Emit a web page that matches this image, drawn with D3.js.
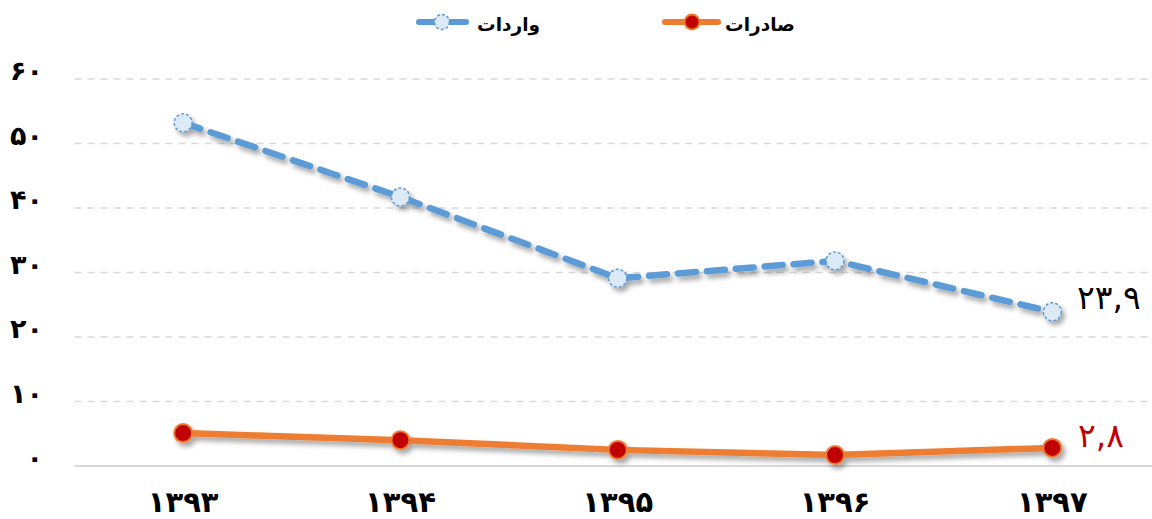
<!DOCTYPE html>
<html><head><meta charset="utf-8">
<script src="https://cdn.jsdelivr.net/npm/d3@7/dist/d3.min.js"></script>
<style>body{margin:0;background:#fff}svg{display:block}</style>
</head><body>
<svg id="c" width="1152" height="519"></svg>
<script>
const years = ["۱۳۹۳","۱۳۹۴","۱۳۹۵","۱۳۹۶","۱۳۹۷"];
const imports = [53.2, 41.7, 29.1, 31.8, 23.9];
const exportsV = [5.1, 4.0, 2.5, 1.7, 2.8];
const yTicks = [0,10,20,30,40,50,60];
const yTickLabels = ["۰","۱۰","۲۰","۳۰","۴۰","۵۰","۶۰"];
const seriesNames = ["واردات","صادرات"];
const endLabels = ["۲۳,۹","۲,۸"];

const svg = d3.select("#c");
const font = "DejaVu Sans";
const x = d3.scaleBand().domain(years).range([74.5, 1161]);
const y = d3.scaleLinear().domain([0,60]).range([466, 79]);
const cx = d => x(d) + x.bandwidth()/2;

const defs = svg.append("defs");
const f = defs.append("filter").attr("id","sh").attr("x","-20%").attr("y","-50%").attr("width","140%").attr("height","200%");
f.append("feDropShadow").attr("dx",3).attr("dy",4).attr("stdDeviation",2.5).attr("flood-color","#000").attr("flood-opacity",0.35);

// gridlines
svg.append("g").selectAll("line").data(yTicks.filter(t=>t>0)).join("line")
  .attr("x1",74.5).attr("x2",1152).attr("y1",d=>y(d)).attr("y2",d=>y(d))
  .attr("stroke","#d9d9d9").attr("stroke-width",1.5).attr("stroke-dasharray","7,6");
// axis line
svg.append("line").attr("x1",74.5).attr("x2",1152).attr("y1",y(0)).attr("y2",y(0))
  .attr("stroke","#d9d9d9").attr("stroke-width",2);

// y labels
svg.append("g").selectAll("text").data(yTicks).join("text")
  .attr("x",43).attr("y",d=>y(d)+1).attr("text-anchor","end")
  .attr("font-family",font).attr("font-weight","bold").attr("font-size",27).attr("fill","#000")
  .text((d,i)=>yTickLabels[i]);

// x labels
svg.append("g").selectAll("text").data(years).join("text")
  .attr("x",d=>cx(d)).attr("y",512).attr("text-anchor","middle")
  .attr("font-family",font).attr("font-weight","bold").attr("font-size",29).attr("fill","#000")
  .text(d=>d);

const line = d3.line().x((d,i)=>cx(years[i])).y(d=>y(d));

// imports
const gi = svg.append("g").attr("filter","url(#sh)");
gi.append("path").datum(imports).attr("d",line).attr("fill","none")
  .attr("stroke","#5b9bd5").attr("stroke-width",6.5).attr("stroke-linecap","round")
  .attr("stroke-dasharray","18,11");
gi.selectAll("circle").data(imports).join("circle")
  .attr("cx",(d,i)=>cx(years[i])).attr("cy",d=>y(d)).attr("r",9)
  .attr("fill","#dce9f7").attr("stroke","#5b9bd5").attr("stroke-width",1.5).attr("stroke-dasharray","3,2");

// exports
const ge = svg.append("g").attr("filter","url(#sh)");
ge.append("path").datum(exportsV).attr("d",line).attr("fill","none")
  .attr("stroke","#ed7d31").attr("stroke-width",6.5).attr("stroke-linecap","round");
ge.selectAll("circle").data(exportsV).join("circle")
  .attr("cx",(d,i)=>cx(years[i])).attr("cy",d=>y(d)).attr("r",9)
  .attr("fill","#c00000").attr("stroke","#ed7d31").attr("stroke-width",2);

// end labels
svg.append("text").attr("x",1077).attr("y",309).attr("direction","ltr")
  .attr("font-family",font).attr("font-size",33).attr("fill","#000").text(endLabels[0]);
svg.append("text").attr("x",1078).attr("y",447).attr("direction","ltr")
  .attr("font-family",font).attr("font-size",33).attr("fill","#c00000").text(endLabels[1]);

// legend
const leg = svg.append("g");
leg.append("line").attr("x1",419).attr("x2",466).attr("y1",22).attr("y2",22)
  .attr("stroke","#5b9bd5").attr("stroke-width",6).attr("stroke-linecap","round");
leg.append("circle").attr("cx",442).attr("cy",22).attr("r",7.5).attr("fill","#dce9f7")
  .attr("stroke","#5b9bd5").attr("stroke-width",1.5).attr("stroke-dasharray","3,2");
leg.append("text").attr("x",540).attr("y",31).attr("text-anchor","end")
  .attr("font-family",font).attr("font-weight","bold").attr("font-size",18.5).text(seriesNames[0]);
leg.append("line").attr("x1",665).attr("x2",718).attr("y1",22).attr("y2",22)
  .attr("stroke","#ed7d31").attr("stroke-width",6).attr("stroke-linecap","round");
leg.append("circle").attr("cx",692).attr("cy",22).attr("r",7.5).attr("fill","#c00000")
  .attr("stroke","#ed7d31").attr("stroke-width",2);
leg.append("text").attr("x",795).attr("y",31).attr("text-anchor","end")
  .attr("font-family",font).attr("font-weight","bold").attr("font-size",18.5).text(seriesNames[1]);
</script>
</body></html>
